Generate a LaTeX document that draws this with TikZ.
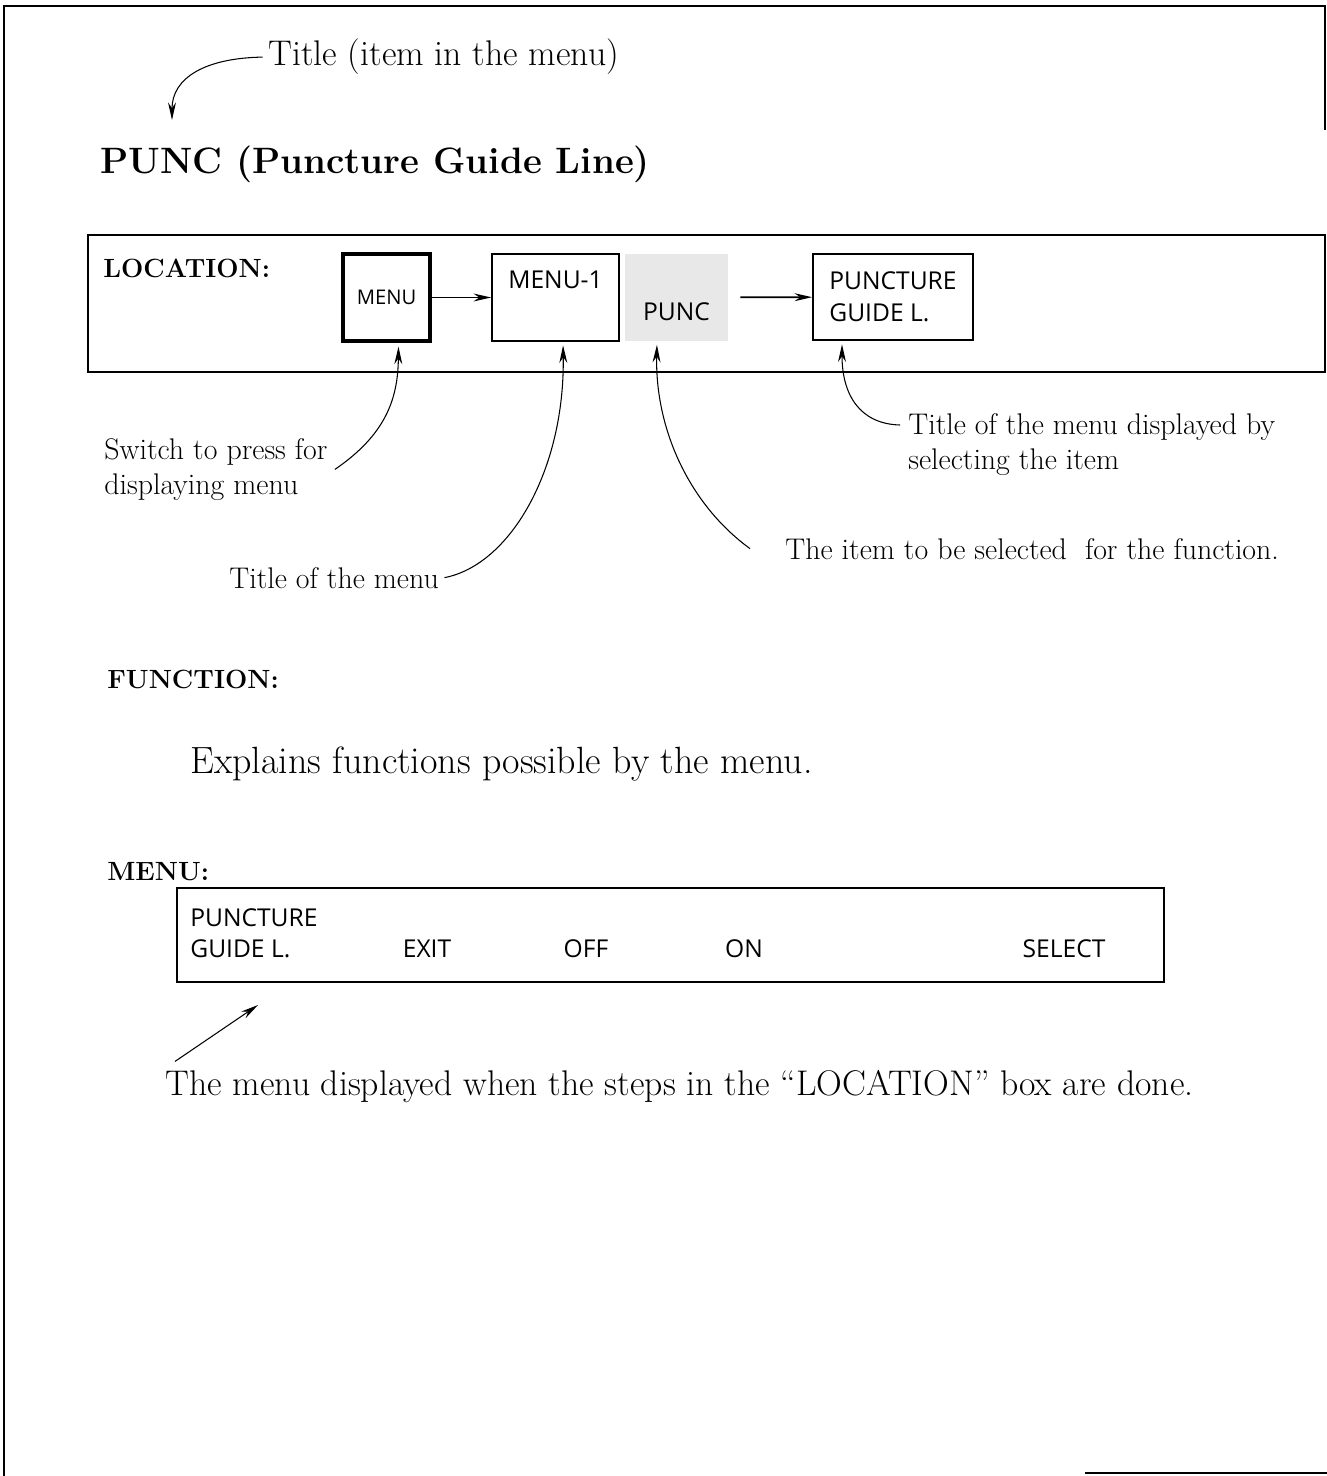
\documentclass[tikz,border=0pt]{standalone}
\usepackage{fontspec}
\newfontfamily\boxfont{Open Sans}
\usetikzlibrary{arrows.meta, calc}

\tikzset{
  note/.style={inner sep=0pt, font=\fontsize{17}{20}\selectfont, align=left},
  big/.style={inner sep=0pt, font=\fontsize{20.3}{24}\selectfont},
  caption/.style={inner sep=0pt, font=\bfseries\fontsize{15}{18}\selectfont},
  boxtxt/.style={font=\boxfont\fontsize{14}{18}\selectfont},
  screen/.style={draw, line width=1pt, boxtxt, align=left},
  lead/.style={->, line width=0.6pt},
}

\begin{document}
\begin{tikzpicture}[x=0.02cm, y=-0.02cm, >={Stealth[length=10pt,width=4.5pt]}]
\useasboundingbox (0,0) rectangle (1327,1476);
% page frame
\draw[line width=1pt] (4,1476) -- (4,6) -- (1325,6) -- (1325,130);
\draw[line width=1pt] (1085,1473) -- (1327,1473);

% title and heading
\node[big, anchor=base west] (ttl) at (268,66) {Title (item in the menu)};
\node[inner sep=0pt, font=\bfseries\fontsize{20.9}{25}\selectfont, anchor=base west] (head) at (100,174) {PUNC (Puncture Guide Line)};
\coordinate (ttip) at (172,120);
\draw[lead] ([xshift=-3pt]ttl.west) .. controls (205,58) and (172,78) .. (ttip);

% location
\draw[line width=1.2pt] (88,235) rectangle (1325,372);
\node[caption, anchor=base west] (loc) at (103,278) {LOCATION:};
\node[draw, line width=2.4pt, minimum width=1.74cm, minimum height=1.74cm, font=\boxfont\fontsize{11.5}{14}\selectfont] (menu) at (386.5,297.5) {MENU};
\node[draw, line width=1pt, minimum width=2.54cm, minimum height=1.74cm,
  label={[boxtxt, anchor=north, inner sep=0pt, yshift=-0.34cm]north:MENU-1}] (m1) at (555.5,297.5) {};
\node[fill=gray!18, minimum width=2.06cm, minimum height=1.74cm,
  label={[boxtxt, anchor=south, inner sep=0pt, yshift=0.4cm]south:PUNC}] (punc) at (676.5,297.5) {};
\node[screen, minimum width=3.2cm, minimum height=1.72cm] (pgl) at (893,297) {PUNCTURE\\GUIDE L.};
\draw[->, line width=1pt] (menu) -- (m1);
\draw[->, line width=1pt, shorten <=0.24cm] (punc) -- (pgl);

% notes under the location box
\node[note, anchor=north west] (sw) at (104,438) {Switch to press for\\displaying menu};
\node[note, anchor=base west] (tm) at (229,588) {Title of the menu};
\node[note, anchor=base west] (it) at (785,559) {The item to be selected\ \ for the function.};
\node[note, anchor=north west] (td) at (908,413) {Title of the menu displayed by\\selecting the item};

\draw[lead, shorten >=2pt] ([xshift=4pt]sw.east) .. controls (385,435) and (398,400) .. ([xshift=0.24cm]menu.south);
\draw[lead, shorten >=2pt] ([xshift=3pt]tm.east) .. controls (510,565) and (565,470) .. ([xshift=0.15cm]m1.south);
\draw[lead, shorten >=2pt] ([xshift=-0.7cm]it.west) .. controls (690,505) and (655,430) .. ([xshift=-0.39cm]punc.south);
\draw[lead, shorten >=2pt] ($(td.north west)+(-8,12)$) .. controls (860,424) and (842,395) .. ([xshift=-1.02cm]pgl.south);

% function
\node[caption, anchor=base west] (fn) at (107,688) {FUNCTION:};
\node[inner sep=0pt, font=\fontsize{21.6}{26}\selectfont, anchor=base west] (expl) at (190,773) {Explains functions possible by the menu.};

% menu
\node[caption, anchor=base west] (mn) at (107,880) {MENU:};
\node[draw, line width=1.2pt, minimum width=19.74cm, minimum height=1.88cm] (bar) at (670.5,935) {};
\node[boxtxt, align=left, anchor=north west, inner sep=0pt] (b1) at (190,908) {PUNCTURE\\GUIDE L.};
\node[boxtxt, anchor=base, inner sep=0pt] (b2) at (427,957) {EXIT};
\node[boxtxt, anchor=base, inner sep=0pt] (b3) at (586,957) {OFF};
\node[boxtxt, anchor=base, inner sep=0pt] (b4) at (744,957) {ON};
\node[boxtxt, anchor=base, inner sep=0pt] (b5) at (1064,957) {SELECT};

\node[big, anchor=base west] (bt) at (165,1095) {The menu displayed when the steps in the ``LOCATION'' box are done.};
\coordinate (mtip) at (258,1005);
\draw[lead] ($(bt.north west)+(10,-8)$) -- (mtip);
\end{tikzpicture}
\end{document}
